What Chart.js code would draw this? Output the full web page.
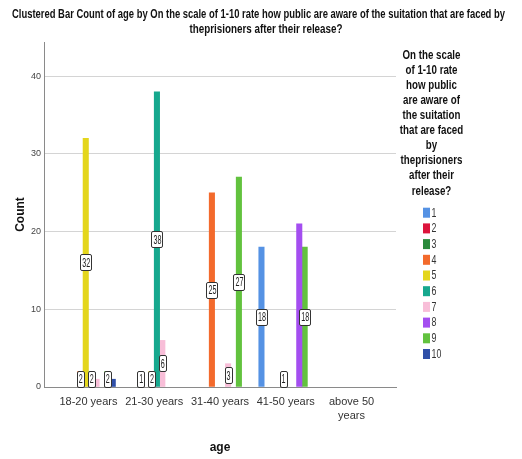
<!DOCTYPE html>
<html><head><meta charset="utf-8">
<script src="https://cdn.jsdelivr.net/npm/chart.js@4/dist/chart.umd.min.js"></script>
<style>html,body{margin:0;padding:0;background:#fff;overflow:hidden}#wrap{width:522px;height:459px}</style>
</head><body><div id="wrap"><canvas id="c" width="522" height="459"></canvas></div>
<script>
// ---- data ----
const chartTitle = ['Clustered Bar Count of age by On the scale of 1-10 rate how public are aware of the suitation that are faced by', 'theprisioners after their release?'];
const legendTitle = ['On the scale', 'of 1-10 rate', 'how public', 'are aware of', 'the suitation', 'that are faced', 'by', 'theprisioners', 'after their', 'release?'];
const categories = ['18-20 years', '21-30 years', '31-40 years', '41-50 years', ['above 50', 'years']];
const seriesNames = ['1', '2', '3', '4', '5', '6', '7', '8', '9', '10'];
const s1  = [0, 0, 0, 18, 0];
const s2  = [0, 0, 0, 0, 0];
const s3  = [0, 1, 0, 0, 0];
const s4  = [2, 0, 25, 0, 0];
const s5  = [32, 2, 0, 1, 0];
const s6  = [2, 38, 0, 0, 0];
const s7  = [1, 6, 3, 0, 0];
const s8  = [0, 0, 0, 21, 0];
const s9  = [2, 0, 27, 18, 0];
const s10 = [1, 0, 0, 0, 0];
const yTicks = [0, 10, 20, 30, 40];
const xAxisTitle = 'age';
const yAxisTitle = 'Count';
// bars whose value label is not shown in the reference: [series, category]
const unlabeled = [[6, 0], [9, 0], [7, 3]];

// ---- styles ----
const seriesColors = ['#5592e4', '#dc143c', '#2a8a3c', '#f36a2c', '#e4d61c', '#16a88e', '#f8bed8', '#a44ef0', '#62c23e', '#2f4fa8'];
const SANS = "'Liberation Sans',Arial,sans-serif";
const allSeries = [s1, s2, s3, s4, s5, s6, s7, s8, s9, s10];

// draw text horizontally condensed (the reference uses a narrow face)
function narrowText(ctx, txt, x, y, sx, sy) {
  ctx.save();
  ctx.translate(x, y);
  ctx.scale(sx, sy || 1);
  ctx.fillText(txt, 0, 0);
  ctx.restore();
}

const titlePlugin = {
  id: 'mainTitle',
  afterDraw(chart) {
    const ctx = chart.ctx;
    ctx.save();
    ctx.fillStyle = '#111';
    ctx.font = 'bold 12px ' + SANS;
    ctx.textAlign = 'center';
    ctx.textBaseline = 'middle';
    const w0 = ctx.measureText(chartTitle[0]).width;
    narrowText(ctx, chartTitle[0], 258.5, 14, 493 / w0, 1.1);
    const w1 = ctx.measureText(chartTitle[1]).width;
    narrowText(ctx, chartTitle[1], 266, 29.5, 153 / w1, 1.1);
    ctx.restore();
  }
};

const legendPlugin = {
  id: 'sideLegend',
  afterDraw(chart) {
    const ctx = chart.ctx;
    ctx.save();
    ctx.fillStyle = '#111';
    ctx.font = 'bold 12px ' + SANS;
    ctx.textAlign = 'center';
    ctx.textBaseline = 'middle';
    const wRef = ctx.measureText(legendTitle[0]).width;
    const sx = 58 / wRef;
    legendTitle.forEach((t, i) => narrowText(ctx, t, 431.5, 55 + i * 15.1, sx, 1.1));
    ctx.font = '11px ' + SANS;
    ctx.textAlign = 'left';
    seriesNames.forEach((n, k) => {
      const cy = 212.7 + k * 15.7;
      ctx.fillStyle = seriesColors[k];
      ctx.fillRect(423, cy - 5, 7, 10);
      ctx.fillStyle = '#333';
      narrowText(ctx, n, 431.5, cy + 0.5, 0.8, 1.1);
    });
    ctx.restore();
  }
};

const labelPlugin = {
  id: 'barLabels',
  afterDatasetsDraw(chart) {
    const ctx = chart.ctx;
    const axisY = chart.scales.y.getPixelForValue(0);
    ctx.save();
    ctx.font = '10px ' + SANS;
    ctx.textAlign = 'center';
    ctx.textBaseline = 'middle';
    chart.data.datasets.forEach((ds, k) => {
      const meta = chart.getDatasetMeta(k);
      meta.data.forEach((el, i) => {
        const v = allSeries[k][i];
        if (!v) return;
        if (unlabeled.some(u => u[0] === k && u[1] === i)) return;
        const txt = String(v);
        const sx = 0.72;
        const w = ctx.measureText(txt).width * sx + 3;
        const h = 16;
        let cy = (el.y + el.base) / 2;
        if (cy + h / 2 > axisY - 0.5) cy = axisY - 0.5 - h / 2;
        const x = el.x;
        ctx.fillStyle = '#fff';
        ctx.strokeStyle = '#333';
        ctx.lineWidth = 1;
        ctx.beginPath();
        ctx.roundRect(Math.round(x - w / 2) + 0.5, Math.round(cy - h / 2) + 0.5, Math.round(w), h, 1.5);
        ctx.fill();
        ctx.stroke();
        ctx.fillStyle = '#222';
        narrowText(ctx, txt, x + 0.5, cy + 1, sx, 1.3);
      });
    });
    ctx.restore();
  }
};

new Chart(document.getElementById('c').getContext('2d'), {
  type: 'bar',
  data: {
    datasets: allSeries.map((vals, k) => ({
      label: seriesNames[k],
      data: vals.map((v, i) => ({ x: i, y: v > 0 ? v : null })),
      backgroundColor: seriesColors[k],
      borderWidth: 0,
      barThickness: 5.4
    }))
  },
  options: {
    responsive: false,
    animation: false,
    devicePixelRatio: 1,
    layout: { padding: { top: 42, right: 126, left: 0, bottom: 0 } },
    plugins: { legend: { display: false }, tooltip: { enabled: false }, title: { display: false } },
    scales: {
      x: {
        type: 'linear',
        offset: false,
        min: -0.676,
        max: 4.676,
        afterBuildTicks: s => { s.ticks = categories.map((c, i) => ({ value: i })); },
        afterFit: s => { s.height = 72; },
        ticks: {
          callback: v => categories[v],
          autoSkip: false, maxRotation: 0, minRotation: 0,
          padding: 8,
          color: '#333',
          font: { size: 11, family: SANS, lineHeight: 1.25 }
        },
        grid: { display: false, drawTicks: false },
        border: { display: true, color: '#8a8a8a', width: 1 },
        title: { display: true, text: xAxisTitle, color: '#111', font: { size: 12, weight: 'bold', family: SANS }, padding: { top: 0, bottom: 4 } }
      },
      y: {
        min: 0,
        max: 44.4,
        afterBuildTicks: s => { s.ticks = yTicks.map(v => ({ value: v })); },
        afterFit: s => { s.width = 44; },
        ticks: { padding: 3, color: '#444', font: { size: 9, family: SANS } },
        grid: { color: '#d4d4d4', drawTicks: false, lineWidth: 1 },
        border: { display: true, color: '#8a8a8a', width: 1 },
        title: { display: true, text: yAxisTitle, color: '#111', font: { size: 12, weight: 'bold', family: SANS }, padding: { top: 13, bottom: 0 } }
      }
    }
  },
  plugins: [titlePlugin, legendPlugin, labelPlugin]
});
</script>
</body></html>
